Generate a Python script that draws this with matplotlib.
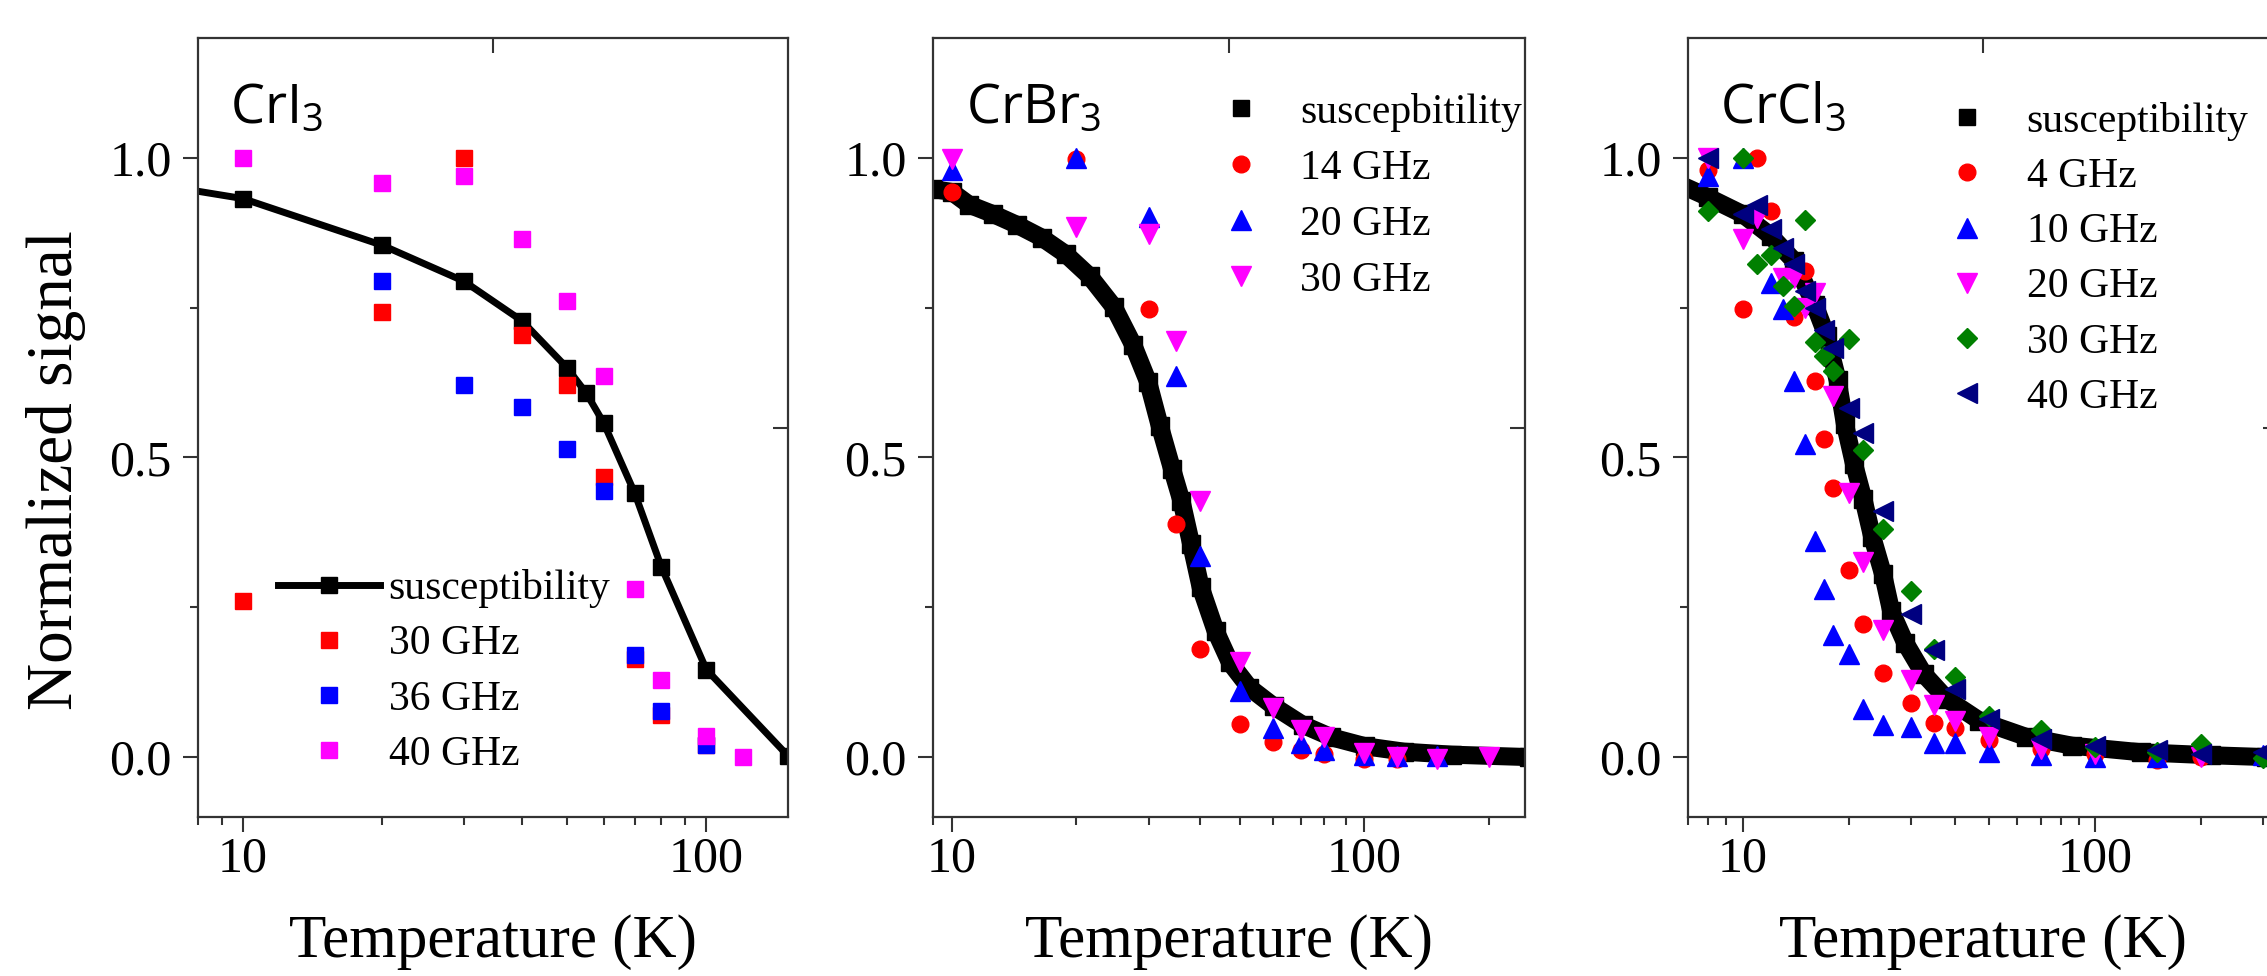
import numpy as np
import matplotlib
matplotlib.use('Agg')
import matplotlib.pyplot as plt
from matplotlib.lines import Line2D
from matplotlib.ticker import LogLocator, NullFormatter

plt.rcParams['font.family'] = ['Liberation Serif', 'DejaVu Serif']
plt.rcParams['mathtext.fontset'] = 'custom'
plt.rcParams['mathtext.rm'] = 'Open Sans'
plt.rcParams['mathtext.it'] = 'Open Sans'

# ---- CrI3 ----
cri3_chi_T = [5, 10, 20, 30, 40, 50, 55, 60, 70, 80, 100, 150]
cri3_chi = [0.97, 0.932, 0.854, 0.794, 0.728, 0.650, 0.608, 0.558, 0.441, 0.317, 0.146, 0.002]
cri3_T30 = [10, 20, 30, 40, 50, 60, 70, 80, 100]
cri3_30 = [0.26, 0.742, 1.0, 0.704, 0.621, 0.467, 0.163, 0.07, 0.02]
cri3_T36 = [20, 30, 40, 50, 60, 70, 80, 100]
cri3_36 = [0.794, 0.621, 0.584, 0.514, 0.444, 0.17, 0.077, 0.02]
cri3_T40 = [10, 20, 30, 40, 50, 60, 70, 80, 100, 120]
cri3_40 = [1.0, 0.958, 0.969, 0.865, 0.761, 0.636, 0.281, 0.129, 0.035, 0.0]

# ---- CrBr3 ----
crbr3_chi_T = [9.0, 10, 11.0, 12.6, 14.4, 16.5, 18.9, 21.6, 24.7, 27.5, 29.9, 31.9, 34.2,
               36.0, 38.0, 40.1, 43.6, 47.2, 52.6, 60.2, 70.8, 83.2, 100.5, 124.7, 163, 250]
crbr3_chi = [0.948, 0.943, 0.922, 0.906, 0.888, 0.867, 0.839, 0.802, 0.751, 0.688, 0.626, 0.553, 0.480,
             0.428, 0.356, 0.283, 0.210, 0.158, 0.116, 0.085, 0.054, 0.033, 0.018, 0.009, 0.004, 0.0]
crbr3_T14 = [10, 20, 30, 35, 40, 50, 60, 70, 80, 100, 120]
crbr3_14 = [0.943, 0.998, 0.748, 0.389, 0.181, 0.056, 0.025, 0.012, 0.005, -0.003, -0.003]
crbr3_T20 = [10, 20, 30, 35, 40, 50, 60, 70, 80, 100, 120, 150]
crbr3_20 = [0.979, 1.0, 0.901, 0.636, 0.335, 0.111, 0.049, 0.023, 0.012, 0.004, 0.002, 0.002]
crbr3_T30 = [10, 20, 30, 35, 40, 50, 60, 70, 80, 100, 120, 150, 200]
crbr3_30 = [0.998, 0.884, 0.873, 0.695, 0.428, 0.158, 0.082, 0.046, 0.033, 0.007, 0.0, -0.003, 0.0]

# ---- CrCl3 ----
crcl3_chi_T = [6.5, 8, 10, 12, 14, 16, 17.3, 18.6, 19.5, 20.7, 22, 23.3, 25, 26.4, 28.9, 32.6,
               37.9, 46.9, 63.5, 85.9, 135, 213, 305, 340]
crcl3_chi = [0.958, 0.934, 0.906, 0.870, 0.828, 0.755, 0.703, 0.629, 0.556, 0.489, 0.431, 0.368, 0.306,
             0.243, 0.191, 0.139, 0.097, 0.061, 0.034, 0.019, 0.008, 0.003, 0.0, 0.0]
crcl3_T4 = [8, 10, 11, 12, 14, 15, 16, 17, 18, 20, 22, 25, 30, 35, 40, 50, 70, 100, 150, 200]
crcl3_4 = [0.979, 0.747, 1.0, 0.911, 0.734, 0.812, 0.627, 0.530, 0.449, 0.313, 0.222, 0.141, 0.090,
           0.057, 0.048, 0.029, 0.014, 0.005, -0.005, 0.0]
crcl3_T10 = [8, 10, 12, 13, 14, 15, 16, 17, 18, 20, 22, 25, 30, 35, 40, 50, 70, 100, 150, 300]
crcl3_10 = [0.97, 1.0, 0.791, 0.747, 0.627, 0.523, 0.36, 0.28, 0.204, 0.172, 0.081, 0.053, 0.05,
            0.024, 0.024, 0.008, 0.003, 0.0, 0.0, 0.003]
crcl3_T20 = [8, 10, 11, 13, 14, 15, 16, 18, 20, 22, 25, 30, 35, 40, 50, 70, 100, 200]
crcl3_20 = [1.0, 0.864, 0.90, 0.80, 0.80, 0.75, 0.775, 0.603, 0.44, 0.325, 0.212, 0.128, 0.087,
            0.06, 0.034, 0.014, 0.005, 0.0]
crcl3_T30 = [8, 10, 11, 12, 13, 14, 15, 16, 17, 18, 20, 22, 25, 30, 35, 40, 50, 70, 100, 150, 200, 300]
crcl3_30 = [0.911, 1.0, 0.823, 0.838, 0.786, 0.753, 0.896, 0.692, 0.669, 0.645, 0.697, 0.513, 0.381,
            0.277, 0.181, 0.134, 0.068, 0.045, 0.016, 0.008, 0.021, -0.002]
crcl3_T40 = [8, 10, 11, 12, 13, 14, 15, 16, 17, 18, 20, 22, 25, 30, 35, 40, 50, 70, 100, 150, 200, 300]
crcl3_40 = [1.0, 0.906, 0.922, 0.882, 0.849, 0.823, 0.778, 0.75, 0.713, 0.682, 0.582, 0.541, 0.41,
            0.238, 0.178, 0.113, 0.064, 0.031, 0.019, 0.011, 0.005, 0.008]

RED, BLUE, MAG, GREEN, NAVY = '#ff0000', '#0000ff', '#ff00ff', '#008000', '#000080'
SPINE = '#333333'

W, H = 2267, 976
fig = plt.figure(figsize=(W / 100, H / 100), dpi=100)
bot, top = 817, 38
ax_h = (bot - top) / H


def make_axes(left_px, width_px, xlim, title):
    ax = fig.add_axes([left_px / W, 1 - bot / H, width_px / W, ax_h])
    ax.set_xscale('log')
    ax.set_xlim(*xlim)
    ax.set_ylim(-0.1, 1.2)
    ax.set_xticks([10, 100], ['10', '100'])
    ax.xaxis.set_minor_locator(LogLocator(base=10, subs=np.arange(2, 10)))
    ax.xaxis.set_minor_formatter(NullFormatter())
    ax.set_yticks([0, 0.5, 1.0], ['0.0', '0.5', '1.0'])
    ax.set_yticks([0.25, 0.75], minor=True)
    ax.tick_params(which='major', direction='out', length=11, width=1.5, color=SPINE, labelsize=36)
    ax.tick_params(axis='x', which='major', pad=3)
    ax.tick_params(axis='y', which='major', pad=8)
    ax.tick_params(which='minor', direction='out', length=5.5, width=1.5, color=SPINE)
    for s in ax.spines.values():
        s.set_linewidth(1.6)
        s.set_color(SPINE)
    # opposite axes carry a single inward tick at the middle
    tx = ax.twiny()
    tx.set_xlim(0, 1)
    tx.set_xticks([0.5], [''])
    tx.tick_params(direction='in', length=11, width=1.5, color=SPINE)
    ty = ax.twinx()
    ty.set_ylim(0, 1)
    ty.set_yticks([0.5], [''])
    ty.tick_params(direction='in', length=11, width=1.5, color=SPINE)
    for t in (tx, ty):
        for s in t.spines.values():
            s.set_visible(False)
    ax.text(0.055, 0.89, title, transform=ax.transAxes, fontsize=39,
            family=['Open Sans', 'DejaVu Sans'], va='baseline', ha='left')
    ax.set_xlabel('Temperature (K)', fontsize=44, va='center')
    ax.xaxis.set_label_coords(0.5, -0.16)
    return ax


# ---- panel 1 ----
ax1 = make_axes(198, 590, (8, 150), 'CrI$_3$')
ax1.plot(cri3_chi_T, cri3_chi, color='black', lw=5, marker='s', ms=11, zorder=2)
ax1.plot(cri3_T30, cri3_30, ls='none', marker='s', ms=12, color=RED, mec=RED, zorder=3)
ax1.plot(cri3_T36, cri3_36, ls='none', marker='s', ms=12, color=BLUE, mec=BLUE, zorder=3)
ax1.plot(cri3_T40, cri3_40, ls='none', marker='s', ms=12, color=MAG, mec=MAG, zorder=3)
h1 = [Line2D([], [], color='black', lw=5, marker='s', ms=11),
      Line2D([], [], ls='none', marker='s', ms=12, color=RED),
      Line2D([], [], ls='none', marker='s', ms=12, color=BLUE),
      Line2D([], [], ls='none', marker='s', ms=12, color=MAG)]
ax1.legend(h1, ['susceptibility', '30 GHz', '36 GHz', '40 GHz'], loc='upper left',
           bbox_to_anchor=(0.136, 0.318), frameon=False, fontsize=30, handlelength=2.45,
           handletextpad=0.2, labelspacing=0.4, borderpad=0, borderaxespad=0)

# ---- panel 2 ----
ax2 = make_axes(933, 592, (9, 245), 'CrBr$_3$')
ax2.plot(crbr3_chi_T, crbr3_chi, color='black', lw=13, solid_joinstyle='miter', zorder=2)
ax2.plot(crbr3_chi_T, crbr3_chi, ls='none', marker='s', ms=13, color='black', zorder=2)
ax2.plot(crbr3_T14, crbr3_14, ls='none', marker='o', ms=12, color=RED, mec=RED, zorder=3)
ax2.plot(crbr3_T20, crbr3_20, ls='none', marker='^', ms=14, color=BLUE, mec=BLUE, zorder=3)
ax2.plot(crbr3_T30, crbr3_30, ls='none', marker='v', ms=14, color=MAG, mec=MAG, zorder=3)
h2 = [Line2D([], [], ls='none', marker='s', ms=12, color='black'),
      Line2D([], [], ls='none', marker='o', ms=12, color=RED),
      Line2D([], [], ls='none', marker='^', ms=14, color=BLUE),
      Line2D([], [], ls='none', marker='v', ms=14, color=MAG)]
ax2.legend(h2, ['suscepbitility', '14 GHz', '20 GHz', '30 GHz'], loc='upper left',
           bbox_to_anchor=(0.45, 0.93), frameon=False, fontsize=30, handlelength=2.0,
           handletextpad=0.42, labelspacing=0.42, borderpad=0, borderaxespad=0)

# ---- panel 3 ----
ax3 = make_axes(1688, 590, (7, 330), 'CrCl$_3$')
ax3.plot(crcl3_chi_T, crcl3_chi, color='black', lw=13, solid_joinstyle='miter', zorder=2)
ax3.plot(crcl3_chi_T, crcl3_chi, ls='none', marker='s', ms=13, color='black', zorder=2)
ax3.plot(crcl3_T4, crcl3_4, ls='none', marker='o', ms=12, color=RED, mec=RED, zorder=3)
ax3.plot(crcl3_T10, crcl3_10, ls='none', marker='^', ms=14, color=BLUE, mec=BLUE, zorder=3)
ax3.plot(crcl3_T20, crcl3_20, ls='none', marker='v', ms=14, color=MAG, mec=MAG, zorder=3)
ax3.plot(crcl3_T30, crcl3_30, ls='none', marker='D', ms=10, color=GREEN, mec=GREEN, zorder=3)
ax3.plot(crcl3_T40, crcl3_40, ls='none', marker='<', ms=14, color=NAVY, mec=NAVY, zorder=3)
h3 = [Line2D([], [], ls='none', marker='s', ms=12, color='black'),
      Line2D([], [], ls='none', marker='o', ms=12, color=RED),
      Line2D([], [], ls='none', marker='^', ms=14, color=BLUE),
      Line2D([], [], ls='none', marker='v', ms=14, color=MAG),
      Line2D([], [], ls='none', marker='D', ms=10, color=GREEN),
      Line2D([], [], ls='none', marker='<', ms=14, color=NAVY)]
ax3.legend(h3, ['susceptibility', '4 GHz', '10 GHz', '20 GHz', '30 GHz', '40 GHz'], loc='upper left',
           bbox_to_anchor=(0.403, 0.918), frameon=False, fontsize=30, handlelength=2.0,
           handletextpad=0.42, labelspacing=0.4, borderpad=0, borderaxespad=0)

fig.text(56 / W, 1 - 470 / H, 'Normalized signal', rotation=90, ha='center', va='center', fontsize=47)

fig.savefig('out.png', dpi=100)
